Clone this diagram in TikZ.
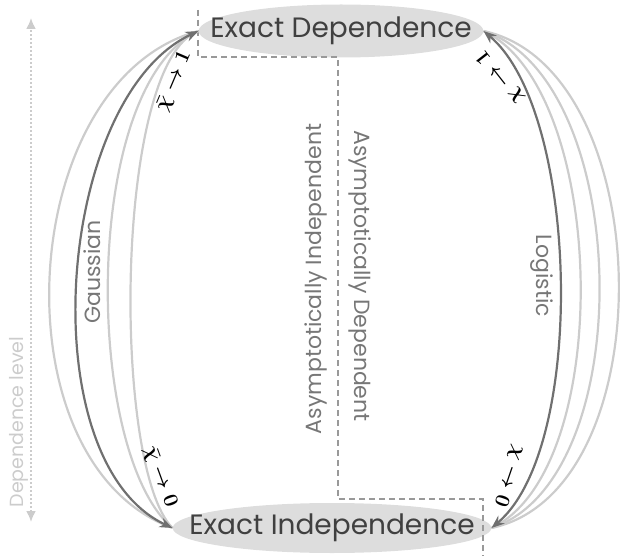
\documentclass[tikz,border=0pt]{standalone}
\usepackage{amsmath}
\usepackage{fontspec}
\setmainfont{Poppins}
\usetikzlibrary{shapes.geometric,arrows.meta}

\definecolor{darkline}{HTML}{707070}
\definecolor{lightline}{HTML}{CCCCCC}
\definecolor{statefill}{HTML}{DDDDDD}
\definecolor{statetext}{HTML}{404040}
\definecolor{regiontext}{HTML}{777777}
\definecolor{divider}{HTML}{999999}

\begin{document}
\begin{tikzpicture}[x=1pt,y=1pt,
	state/.style={ellipse,fill=statefill,text=statetext,inner xsep=-30pt,inner ysep=0pt,font=\fontsize{28}{32}\selectfont},
	darkcurve/.style={draw=darkline,line width=2.2pt,{Stealth[length=13pt,width=10pt]}-{Stealth[length=13pt,width=10pt]}},
	lightcurve/.style={draw=lightline,line width=2.2pt},
	regionlabel/.style={text=regiontext,font=\fontsize{22}{25}\selectfont},
	limitlabel/.style={font=\fontsize{21}{24}\selectfont\boldmath}]
	
	\useasboundingbox (0,0) rectangle (621,-556);
	
	\node[state,minimum width=283pt,minimum height=53pt] (dep) at (341,-31) {Exact Dependence};
	\node[state,minimum width=318pt,minimum height=50pt] (ind) at (332,-528) {Exact Independence};
	
	% border between the two regions
	\draw[divider,dashed,line width=1.2pt,dash pattern=on 6pt off 4pt] (198,-10) |- (338,-57) |- (483,-499) -- (483,-556);
	
	% left family
	\draw[lightcurve] (dep.west) .. controls +(195:190) and +(160:190) .. (ind.west);
	\draw[lightcurve] (dep.west) .. controls +(205:130) and +(140:116) .. (ind.west);
	\draw[lightcurve] (dep.west) .. controls +(200:90) and +(135:86) .. (ind.west);
	\draw[darkcurve] (ind.west) .. controls +(155:158) and +(205:158) .. (dep.west);
	
	% right family
	\draw[lightcurve] (dep.east) .. controls +(-25:137) and +(25:137) .. (ind.east);
	\draw[lightcurve] (dep.east) .. controls +(-18:157) and +(18:157) .. (ind.east);
	\draw[lightcurve] (dep.east) .. controls +(-12:179) and +(12:179) .. (ind.east);
	\draw[darkcurve] (ind.east) .. controls +(40:125) and +(-40:125) .. (dep.east);
	
	\node[regionlabel,rotate=90] (gauss) at (92,-272) {Gaussian};
	\node[regionlabel,rotate=-90] (logis) at (542,-276) {Logistic};
	\node[regionlabel,rotate=90] (asyind) at (316,-279) {Asymptotically Independent};
	\node[regionlabel,rotate=-90] (asydep) at (360,-276) {Asymptotically Dependent};
	
	\node[limitlabel,rotate=67] (gup) at (174,-81) {$\bar{\chi}\to1$};
	\node[limitlabel,rotate=-70] (gdown) at (160,-477) {$\bar{\chi}\to0$};
	\node[limitlabel,rotate=128] (lup) at (500,-77) {$\chi\to1$};
	\node[limitlabel,rotate=-109] (ldown) at (509,-476) {$\chi\to0$};
	
	% dependence scale
	\coordinate (levtop) at (31,-18);
	\coordinate (levbot) at (31,-522);
	\draw[lightline,line width=2pt,dotted,{Latex[length=11pt,width=10pt]}-{Latex[length=11pt,width=10pt]}] (levbot) -- (levtop);
	\node[text=lightline,font=\fontsize{19}{22}\selectfont,rotate=90] (level) at (19,-422) {Dependence level};
	
\end{tikzpicture}
\end{document}
